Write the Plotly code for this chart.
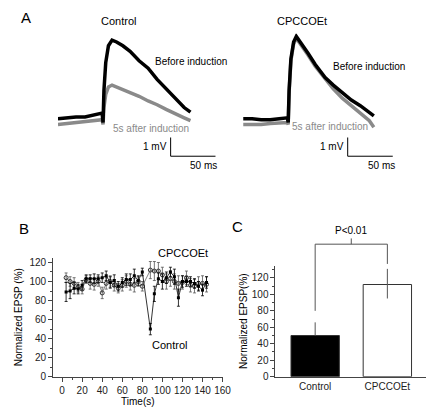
import plotly.graph_objects as go

W, H = 444, 413
DX, DY = 6, 5  # the page shows the figure slightly offset; compensate

# Panel A traces: (ms, mV) key points
ctl_t = [0, 10, 20, 30, 40, 49, 50, 51, 53, 56, 60, 65, 72, 80, 90, 100, 110, 120, 130, 140, 147]
ctl_before = [0, 0.05, 0.1, 0.1, 0.2, 0.3, -0.2, 1.5, 3.0, 3.9, 4.2, 4.1, 3.9, 3.6, 3.1, 2.7, 2.1, 1.6, 1.1, 0.6, 0.35]
ctl_after = [-0.3, -0.25, -0.2, -0.15, -0.1, -0.05, -0.3, 0.6, 1.3, 1.7, 1.8, 1.7, 1.6, 1.4, 1.2, 0.95, 0.75, 0.5, 0.25, 0.05, -0.1]
cp_t = [0, 10, 20, 30, 40, 49, 50, 51, 53, 56, 59, 65, 72, 80, 91, 100, 110, 120, 130, 140, 145]
cp_before = [0, 0, -0.05, -0.05, 0, 0.05, -0.2, 1.5, 3.2, 4.1, 4.4, 4.0, 3.5, 2.9, 2.2, 1.8, 1.4, 1.0, 0.7, 0.35, 0.15]
cp_after = [-0.3, -0.3, -0.3, -0.25, -0.2, -0.2, -0.3, 1.4, 3.1, 4.0, 4.3, 3.9, 3.4, 2.8, 2.1, 1.6, 1.1, 0.7, 0.3, -0.1, -0.45]

# Panel B
time_s = [4, 8, 12, 16, 20, 24, 28, 32, 36, 40, 44, 48, 52, 56, 60, 64, 68, 72, 76, 80,
          88, 92, 96, 100, 104, 108, 112, 116, 120, 124, 128, 132, 136, 140, 144]
control_b = [89, 90, 93, 92, 96, 103, 103, 103, 103, 104, 106, 99, 101, 95, 99, 102, 102, 106, 101, 110,
             50, 87, 103, 100, 104, 110, 105, 83, 100, 100, 100, 98, 95, 91, 99]
control_b_err = [10, 8, 6, 5, 5, 4, 4, 5, 4, 5, 5, 6, 6, 5, 5, 6, 6, 7, 5, 4,
                 6, 8, 6, 8, 6, 5, 8, 9, 6, 5, 5, 5, 5, 6, 6]
cpccoet_b = [104, 100, 98, 94, 92, 102, 98, 97, 100, 88, 98, 100, 96, 93, 96, 100, 97, 96, 100, 95,
             112, 111, 111, 107, 100, 103, 100, 98, 99, 104, 96, 95, 98, 98, 97]
cpccoet_b_err = [5, 5, 6, 5, 5, 4, 6, 6, 5, 6, 6, 6, 6, 5, 6, 6, 6, 7, 5, 5,
                 9, 10, 9, 8, 8, 8, 8, 8, 7, 7, 7, 7, 7, 8, 8]

# Panel C
groups = ["Control", "CPCCOEt"]
means = [50, 112]
err_up = [16, 19]
err_down = [0, 17]

fig = go.Figure()
FONT = "Liberation Sans, Arial, sans-serif"


def px(x0, x1):
    return [(x0 - DX) / W, (x1 - DX) / W]


def py(top, bottom):
    return [1 - (bottom - DY) / H, 1 - (top - DY) / H]


def note(text, x, y, size=10, color="black", xref="paper", yref="paper", xanchor="center", yanchor="middle"):
    if xref == "paper":
        x = (x - DX) / W
    if yref == "paper":
        y = 1 - (y - DY) / H
    fig.add_annotation(xref=xref, yref=yref, x=x, y=y, text=text, showarrow=False,
                       xanchor=xanchor, yanchor=yanchor, font=dict(size=size, color=color))


# Panel A
for i, (t, b, a, xd) in enumerate([(ctl_t, ctl_before, ctl_after, px(57, 218)),
                                   (cp_t, cp_before, cp_after, px(246, 407))]):
    xa, ya = ("x", "y") if i == 0 else ("x2", "y2")
    fig.add_trace(go.Scatter(x=t, y=a, mode="lines", line=dict(color="#8a8a8a", width=3.5),
                             xaxis=xa, yaxis=ya, showlegend=False))
    fig.add_trace(go.Scatter(x=t, y=b, mode="lines", line=dict(color="black", width=3.5),
                             xaxis=xa, yaxis=ya, showlegend=False))
    key = "" if i == 0 else "2"
    fig.layout["xaxis" + key] = dict(domain=xd, range=[0, 175], visible=False)
    fig.layout["yaxis" + key] = dict(domain=py(30, 170), range=[-2.8, 4.55], visible=False)
    bx = 125 if i == 0 else 116
    fig.add_shape(type="line", xref=xa, yref=ya, x0=bx, x1=bx, y0=-2.0, y1=-1.0, line=dict(color="black", width=1))
    fig.add_shape(type="line", xref=xa, yref=ya, x0=bx, x1=bx + 50, y0=-2.0, y1=-2.0, line=dict(color="black", width=1))
    note("1 mV", bx - 2, -1.5, xref=xa, yref=ya, xanchor="right")
    note("50 ms", bx + 37, -2.5, xref=xa, yref=ya)

note("Control", 119, 17, size=11)
note("CPCCOEt", 306, 17, size=11)
note("Before induction", 154, 58, xanchor="left")
note("Before induction", 336, 63, xanchor="left")
note("5s after induction", 111, 127, color="#8a8a8a", xanchor="left")
note("5s after induction", 294, 125, color="#8a8a8a", xanchor="left")

# Panel B
fig.add_trace(go.Scatter(x=time_s, y=cpccoet_b, mode="lines+markers", xaxis="x3", yaxis="y3",
                         line=dict(color="#666", width=0.8),
                         marker=dict(symbol="circle-open", size=4, color="#333", line=dict(width=1)),
                         error_y=dict(type="data", array=cpccoet_b_err, color="#555", thickness=0.8, width=1.5),
                         showlegend=False))
fig.add_trace(go.Scatter(x=time_s, y=control_b, mode="lines+markers", xaxis="x3", yaxis="y3",
                         line=dict(color="black", width=0.8),
                         marker=dict(symbol="square", size=3, color="black"),
                         error_y=dict(type="data", array=control_b_err, color="black", thickness=0.8, width=1.5),
                         showlegend=False))
axis_style = dict(showline=True, linecolor="#444", linewidth=1, ticks="outside", ticklen=4,
                  tickcolor="#444", showgrid=False, zeroline=False, tickfont=dict(size=10, color="#222"))
fig.update_layout(
    xaxis3=dict(domain=px(52, 225), range=[-9, 160], tickvals=list(range(0, 161, 20)),
                minor=dict(ticks="outside", ticklen=2, dtick=10, tickcolor="#444"),
                title=dict(text="Time(s)", font=dict(size=10), standoff=2), anchor="y3", **axis_style),
    yaxis3=dict(domain=py(258, 379), range=[0, 125], tickvals=list(range(0, 121, 20)),
                minor=dict(ticks="outside", ticklen=2, dtick=10, tickcolor="#444"),
                title=dict(text="Normalized EPSP (%)", font=dict(size=10), standoff=4), anchor="x3", **axis_style),
)
note("CPCCOEt", 185, 253, size=11)
note("Control", 171, 347, size=11)

# Panel C
fig.add_trace(go.Bar(x=[0, 1], y=means, width=0.67, xaxis="x4", yaxis="y4",
                     marker=dict(color=["black", "white"], line=dict(color="#333", width=1)),
                     error_y=dict(type="data", symmetric=False, array=err_up, arrayminus=err_down,
                                  color="#555", thickness=1, width=0),
                     showlegend=False))
fig.update_layout(
    xaxis4=dict(domain=px(279, 433), range=[-0.55, 1.54], tickvals=[0, 1], ticktext=groups,
                anchor="y4", **{**axis_style, "ticks": ""}),
    yaxis4=dict(domain=py(266, 379), range=[0, 135], tickvals=list(range(0, 121, 20)),
                minor=dict(ticks="outside", ticklen=2, dtick=10, tickcolor="#444"),
                title=dict(text="Normalized EPSP(%)", font=dict(size=10), standoff=2), anchor="x4", **axis_style),
)


def cy(v):
    return (H - 379 + DY + v * 113 / 135) / H


for x0, x1, y0, y1 in [(0, 0, 80, 161), (0, 1, 161, 161), (1, 1, 161, 137), (0.5, 0.5, 161, 168)]:
    fig.add_shape(type="line", xref="x4", yref="paper", x0=x0, x1=x1, y0=cy(y0), y1=cy(y1),
                  line=dict(color="#555", width=1))
fig.add_annotation(xref="x4", yref="paper", x=0.5, y=cy(168), text="P<0.01", showarrow=False,
                   yanchor="bottom", font=dict(size=10))

note("A", 24, 14, size=15)
note("B", 22, 228, size=15)
note("C", 240, 226, size=15)

fig.update_layout(width=W, height=H, margin=dict(l=0, r=0, t=0, b=0), plot_bgcolor="white",
                  paper_bgcolor="white", font=dict(family=FONT, color="black"))
fig.write_html("out.html")
